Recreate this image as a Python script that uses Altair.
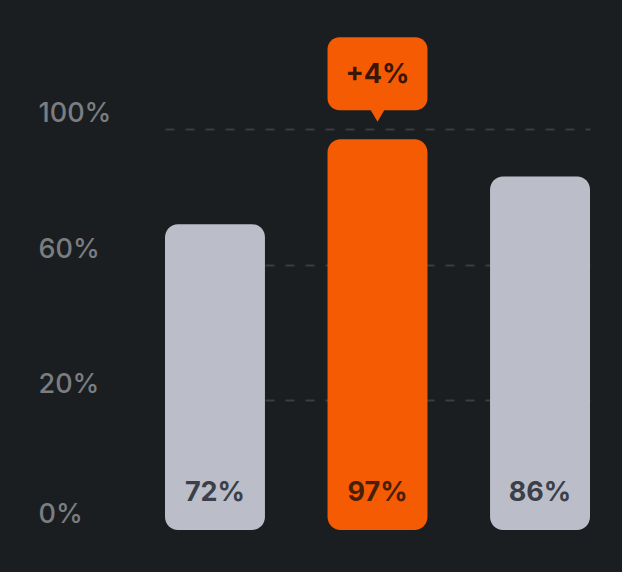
import altair as alt
import pandas as pd

categories = ["A", "B", "C"]
values = [72, 97, 86]
highlight = [False, True, False]
callout_text = "+4%"
tick_values = [0, 20, 60, 100]

BG = "#1b1e20"
GREY = "#bbbec8"
ORANGE = "#f55b03"

df = pd.DataFrame({
    "cat": categories,
    "value": values,
    "hl": highlight,
})
df["label"] = [f"{v}%" for v in values]
df["callout"] = [callout_text if h else "" for h in highlight]

x = alt.X("cat:N", axis=None, sort=categories,
          scale=alt.Scale(paddingInner=0.385, paddingOuter=0))
yscale = alt.Scale(domain=tick_values, range=[493, 363, 228, 92])

base = alt.Chart(df)

bars = base.mark_bar(cornerRadius=13).encode(
    x=x,
    y=alt.Y("value:Q", scale=yscale,
            axis=alt.Axis(values=tick_values, title=None, domain=False, ticks=False,
                          labelExpr="datum.value + '%'",
                          labelAlign="left", labelPadding=127, labelOffset=-16,
                          labelBaseline="middle",
                          labelFont="Inter", labelFontSize=27, labelFontWeight=500,
                          labelColor="#7a7d81",
                          gridColor="#3a3d41", gridDash=[9, 11], gridWidth=2,
                          gridOpacity={"condition": {"test": "datum.value === 0", "value": 0}, "value": 1})),
    y2=alt.datum(0),
    color=alt.Color("hl:N", scale=alt.Scale(domain=[False, True], range=[GREY, ORANGE]), legend=None),
)

labels = base.mark_text(font="Inter", fontSize=27, fontWeight=700, dy=-37, baseline="middle").encode(
    x=x,
    y=alt.Y("zero:Q", scale=yscale),
    text="label:N",
    color=alt.Color("hl:N", scale=alt.Scale(domain=[False, True], range=["#3c3f48", "#4a1f08"]), legend=None),
).transform_calculate(zero="0")

hl_base = base.transform_filter("datum.hl")

box = hl_base.mark_rect(color=ORANGE, cornerRadius=12, yOffset=-102, y2Offset=-29).encode(
    x=x,
    y=alt.Y("value:Q", scale=yscale),
    y2="value:Q",
)

pointer = hl_base.mark_point(shape="triangle-down", filled=True, color=ORANGE, size=230,
                             opacity=1, yOffset=-24).encode(
    x=x,
    y=alt.Y("value:Q", scale=yscale),
)

ctext = hl_base.mark_text(font="Inter", fontSize=27, fontWeight=700, color="#3a1606",
                          dy=-64, baseline="middle").encode(
    x=x,
    y=alt.Y("value:Q", scale=yscale),
    text="callout:N",
)

chart = alt.layer(bars, labels, box, pointer, ctext).resolve_scale(color="independent").properties(
    width=425, height=493,
    background=BG,
    padding={"left": 165, "top": 37, "right": 32, "bottom": 42},
    autosize=alt.AutoSizeParams(type="none"),
).configure_view(stroke=None)

chart.save("out.html", embed_options={"renderer": "svg", "actions": False})
